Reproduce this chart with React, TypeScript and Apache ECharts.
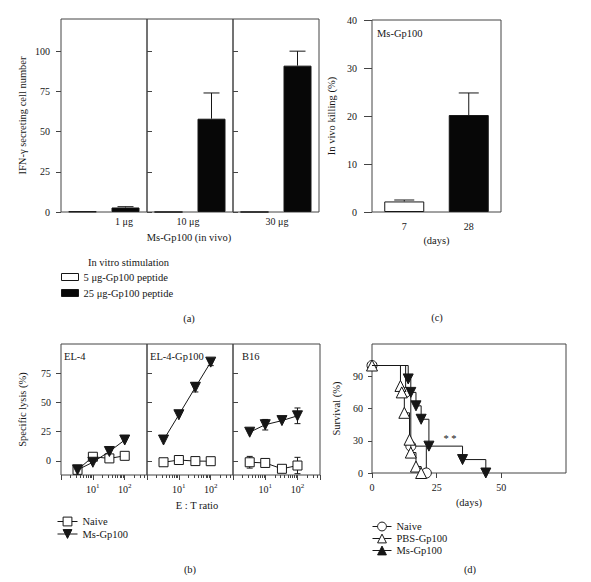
import React, { useEffect, useRef } from 'react';
import * as echarts from 'echarts';

// ---------------- data ----------------
// (a) IFN-gamma ELISPOT
const doses = ['1 μg', '10 μg', '30 μg'];
const stimNames = ['5 μg-Gp100 peptide', '25 μg-Gp100 peptide'];
const ifn5 = [0.3, 0, 0];
const ifn25 = [2.8, 58, 91];
const ifn25Upper = [3.3, 74, 100];
const ifnTicks = [0, 25, 50, 75, 100];

// (c) in vivo killing
const killDays = ['7', '28'];
const killVals = [2.2, 20.2];
const killUpper = [2.5, 24.8];

// (b) specific lysis
const targets = ['EL-4', 'EL-4-Gp100', 'B16'];
const etRatios = [3.3, 10, 33, 100];
const naiveLysis = [
  [-7.6, 3.6, 2.2, 4.4],
  [-1.1, 0.8, -0.1, -0.2],
  [-1.1, -1.7, -6.7, -3.9],
];
const naiveSd = [
  [0, 0, 0, 0],
  [0.5, 0.5, 0.5, 0.5],
  [5, 0.8, 0.5, 7],
];
const msLysis = [
  [-7.6, -1.1, 8.1, 17.9],
  [17.9, 39.5, 63, 84.5],
  [24.6, 31, 34.5, 38.6],
];
const msSd = [
  [0, 0, 0, 0],
  [0.5, 0.5, 4, 3],
  [0.5, 4.5, 0.5, 6.7],
];
const lysisTicks = [0, 25, 50, 75];

// (d) survival
const naiveDays = [0, 13, 15, 21];
const naiveSurv = [100, 75, 25, 0];
const pbsDays = [0, 11, 11.5, 12.5, 14.5, 15, 17, 19];
const pbsSurv = [100, 81, 75, 56, 31, 19, 6, 0];
const msDays = [0, 14, 15, 17, 19, 22, 35, 44];
const msSurv = [100, 87.5, 75, 62.5, 50, 25, 12.5, 0];
const survXTicks = [0, 25, 50];
const survYTicks = [0, 30, 60, 90];

// ---------------- style ----------------
const FONT = 'Liberation Serif';
const INK = '#161616';
const FRAME = '#444';
const TS = 10.5; // title / legend text size
const LS = 10; // tick label size

const txt = (size = TS) => ({ fontFamily: FONT, fontSize: size, color: INK });

const errorBar = (capW: number, both: boolean) => (params: any, api: any) => {
  const x = api.value(0);
  const y = api.value(1);
  const lo = api.value(2);
  const hi = api.value(3);
  const top = api.coord([x, hi]);
  const bot = api.coord([x, both ? lo : y]);
  const st = { stroke: INK, lineWidth: 1 };
  const children: any[] = [
    { type: 'line', shape: { x1: top[0], y1: top[1], x2: bot[0], y2: bot[1] }, style: st },
    { type: 'line', shape: { x1: top[0] - capW / 2, y1: top[1], x2: top[0] + capW / 2, y2: top[1] }, style: st },
  ];
  if (both) {
    children.push({ type: 'line', shape: { x1: bot[0] - capW / 2, y1: bot[1], x2: bot[0] + capW / 2, y2: bot[1] }, style: st });
  }
  return { type: 'group', children };
};

function buildOption(): any {
  const grids = [
    { left: 61, top: 19, width: 86, height: 193 },
    { left: 147, top: 19, width: 86, height: 193 },
    { left: 233, top: 19, width: 86, height: 193 },
    { left: 372, top: 20, width: 129, height: 192 },
    { left: 61, top: 344, width: 86, height: 131 },
    { left: 147, top: 344, width: 86, height: 131 },
    { left: 233, top: 344, width: 87, height: 131 },
    { left: 372, top: 344, width: 194, height: 129 },
  ].map((g) => ({
    ...g,
    show: true,
    borderColor: FRAME,
    borderWidth: 1,
    backgroundColor: 'transparent',
    containLabel: false,
    outerBoundsMode: 'none',
  }));

  const tickLine = { color: FRAME, width: 1 };
  const noLine = { show: false, onZero: false };
  const xAxes: any[] = [];
  const yAxes: any[] = [];

  // (a)
  for (let i = 0; i < 3; i++) {
    xAxes.push({
      type: 'category', gridIndex: i, data: stimNames,
      axisLine: noLine, axisTick: { show: false }, axisLabel: { show: false },
    });
    yAxes.push({
      type: 'value', gridIndex: i, min: 0, max: 120,
      axisLine: noLine,
      axisTick: { show: true, inside: i > 0, length: 5, customValues: ifnTicks, lineStyle: tickLine },
      axisLabel: { show: i === 0, customValues: ifnTicks, margin: 11, ...txt(LS) },
      splitLine: { show: false },
      name: i === 0 ? 'IFN-γ secreting cell number' : '',
      nameLocation: 'middle', nameGap: 33, nameTextStyle: txt(),
    });
  }
  // (c)
  xAxes.push({
    type: 'category', gridIndex: 3, data: killDays,
    axisLine: noLine, axisTick: { show: false },
    axisLabel: { margin: 9, ...txt(LS) },
    name: '(days)', nameLocation: 'middle', nameGap: 23, nameTextStyle: txt(),
  });
  yAxes.push({
    type: 'value', gridIndex: 3, min: 0, max: 40, interval: 10,
    axisLine: noLine,
    axisTick: { show: true, length: 8, lineStyle: tickLine },
    axisLabel: { margin: 15, ...txt(LS) },
    splitLine: { show: false },
    name: 'In vivo killing (%)', nameLocation: 'middle', nameGap: 35, nameTextStyle: txt(),
  });
  // (b)
  for (let j = 0; j < 3; j++) {
    xAxes.push({
      type: 'log', logBase: 10, gridIndex: 4 + j, min: 1, max: 500,
      axisLine: noLine,
      axisTick: { show: true, length: 5, lineStyle: tickLine },
      minorTick: { show: true, splitNumber: 9, length: 3, lineStyle: tickLine },
      splitLine: { show: false }, minorSplitLine: { show: false },
      axisLabel: {
        margin: 7,
        formatter: (v: number) => {
          const r = Math.round(v);
          return r === 10 ? '{b|10}{s|1}' : r === 100 ? '{b|10}{s|2}' : '';
        },
        rich: {
          b: { fontFamily: FONT, fontSize: LS, color: INK, lineHeight: 14 },
          s: { fontFamily: FONT, fontSize: 7, color: INK, lineHeight: 8, verticalAlign: 'top' },
        },
      },
    });
    yAxes.push({
      type: 'value', gridIndex: 4 + j, min: -12, max: 100,
      axisLine: noLine,
      axisTick: { show: true, inside: j > 0, length: 5, customValues: lysisTicks, lineStyle: tickLine },
      axisLabel: { show: j === 0, customValues: lysisTicks, margin: 10, ...txt(LS) },
      splitLine: { show: false },
      name: j === 0 ? 'Specific lysis (%)' : '',
      nameLocation: 'middle', nameGap: 33, nameTextStyle: txt(),
    });
  }
  // (d)
  xAxes.push({
    type: 'value', gridIndex: 7, min: 0, max: 75,
    axisLine: noLine,
    axisTick: { show: true, length: 5, customValues: survXTicks, lineStyle: tickLine },
    axisLabel: { customValues: survXTicks, margin: 9, ...txt(LS) },
    splitLine: { show: false },
    name: '(days)', nameLocation: 'middle', nameGap: 24, nameTextStyle: txt(),
  });
  yAxes.push({
    type: 'value', gridIndex: 7, min: 0, max: 120,
    axisLine: noLine,
    axisTick: { show: true, length: 4, customValues: survYTicks, lineStyle: tickLine },
    axisLabel: { customValues: survYTicks, margin: 9, ...txt(LS) },
    splitLine: { show: false },
    name: 'Survival (%)', nameLocation: 'middle', nameGap: 30, nameTextStyle: txt(),
  });

  const series: any[] = [];
  const whiteBar = { color: '#ffffff', borderColor: INK, borderWidth: 1 };
  const blackBar = { color: '#070707', borderColor: INK, borderWidth: 1 };

  // (a) bars
  for (let i = 0; i < 3; i++) {
    series.push({
      type: 'bar', name: stimNames[0], xAxisIndex: i, yAxisIndex: i,
      data: [ifn5[i], '-'], barWidth: 28, barGap: '-100%', itemStyle: whiteBar,
    });
    series.push({
      type: 'bar', name: stimNames[1], xAxisIndex: i, yAxisIndex: i,
      data: ['-', ifn25[i]], barWidth: 28, barGap: '-100%', itemStyle: blackBar,
    });
    series.push({
      type: 'custom', xAxisIndex: i, yAxisIndex: i, silent: true,
      renderItem: errorBar(16, false),
      data: [[1, ifn25[i], ifn25[i], ifn25Upper[i]]],
      z: 1,
    });
  }
  // (c) bars
  series.push({
    type: 'bar', name: 'killing', xAxisIndex: 3, yAxisIndex: 3, barWidth: 40,
    data: killVals.map((v, k) => ({ value: v, itemStyle: k === 0 ? whiteBar : blackBar })),
  });
  series.push({
    type: 'custom', xAxisIndex: 3, yAxisIndex: 3, silent: true,
    renderItem: errorBar(20, false),
    data: killVals.map((v, k) => [k, v, v, killUpper[k]]),
    z: 1,
  });
  // (b) lines
  for (let j = 0; j < 3; j++) {
    series.push({
      type: 'custom', xAxisIndex: 4 + j, yAxisIndex: 4 + j, silent: true,
      renderItem: errorBar(6, true),
      data: etRatios
        .map((x, k) => [x, naiveLysis[j][k], naiveLysis[j][k] - naiveSd[j][k], naiveLysis[j][k] + naiveSd[j][k], naiveSd[j][k]])
        .concat(etRatios.map((x, k) => [x, msLysis[j][k], msLysis[j][k] - msSd[j][k], msLysis[j][k] + msSd[j][k], msSd[j][k]]))
        .filter((r) => r[4] > 0.9),
      z: 1,
    });
    series.push({
      type: 'line', name: 'Naive', xAxisIndex: 4 + j, yAxisIndex: 4 + j,
      data: etRatios.map((x, k) => [x, naiveLysis[j][k]]),
      symbol: 'rect', symbolSize: 9, showAllSymbol: true,
      itemStyle: { color: '#ffffff', borderColor: INK, borderWidth: 1 },
      lineStyle: { color: INK, width: 1 }, z: 2,
    });
    series.push({
      type: 'line', name: 'Ms-Gp100', xAxisIndex: 4 + j, yAxisIndex: 4 + j,
      data: etRatios.map((x, k) => [x, msLysis[j][k]]),
      symbol: 'triangle', symbolRotate: 180, symbolSize: 10, showAllSymbol: true,
      itemStyle: { color: INK, borderColor: INK, borderWidth: 1 },
      lineStyle: { color: INK, width: 1 }, z: 3,
    });
  }
  // (d) survival
  series.push({
    type: 'line', name: 'd:Naive', xAxisIndex: 7, yAxisIndex: 7, step: 'end',
    data: naiveDays.map((d, k) => [d, naiveSurv[k]]),
    symbol: 'circle', symbolSize: 10, showAllSymbol: true,
    itemStyle: { color: '#ffffff', borderColor: INK, borderWidth: 1 },
    lineStyle: { color: INK, width: 1 }, z: 2,
  });
  series.push({
    type: 'line', name: 'd:PBS-Gp100', xAxisIndex: 7, yAxisIndex: 7, step: 'end',
    data: pbsDays.map((d, k) => [d, pbsSurv[k]]),
    symbol: 'triangle', symbolSize: 11, showAllSymbol: true,
    itemStyle: { color: '#ffffff', borderColor: INK, borderWidth: 1 },
    lineStyle: { color: INK, width: 1 }, z: 3,
  });
  series.push({
    type: 'line', name: 'd:Ms-Gp100', xAxisIndex: 7, yAxisIndex: 7, step: 'end',
    data: msDays.map((d, k) => (k === 0 ? { value: [d, msSurv[k]], symbol: 'none' } : [d, msSurv[k]])),
    symbol: 'triangle', symbolRotate: 180, symbolSize: 10, showAllSymbol: true,
    itemStyle: { color: INK, borderColor: INK, borderWidth: 1 },
    lineStyle: { color: INK, width: 1 }, z: 4,
  });

  const legends = [
    {
      orient: 'vertical', left: 61, top: 271.5, padding: 0, itemWidth: 17, itemHeight: 7, itemGap: 5,
      selectedMode: false, icon: 'rect', textStyle: txt(),
      data: [
        { name: stimNames[0], itemStyle: { color: '#ffffff', borderColor: INK, borderWidth: 1 } },
        { name: stimNames[1], itemStyle: { color: '#070707', borderColor: INK, borderWidth: 1 } },
      ],
    },
    {
      orient: 'vertical', left: 57, top: 516, padding: 0, itemWidth: 20, itemHeight: 11, itemGap: 1.5,
      selectedMode: false, textStyle: txt(),
      itemStyle: { borderWidth: 1 }, lineStyle: { width: 1 },
      data: ['Naive', 'Ms-Gp100'],
    },
    {
      orient: 'vertical', left: 372, top: 521, padding: 0, itemWidth: 19, itemHeight: 11, itemGap: 1,
      selectedMode: false, textStyle: txt(),
      itemStyle: { borderWidth: 1 }, lineStyle: { width: 1 },
      formatter: (n: string) => n.replace('d:', ''),
      data: [{ name: 'd:Naive' }, { name: 'd:PBS-Gp100' }, { name: 'd:Ms-Gp100', symbolRotate: 0 }],
    },
  ];

  const doseX = [124, 188, 277];
  const targetX = [64, 150, 242];
  const gtext = (x: number, y: number, text: string, align = 'center', size = TS) => ({
    type: 'text', x, y,
    style: { text, fontFamily: FONT, fontSize: size, fill: INK, align, verticalAlign: 'middle' },
  });

  const graphic = [
    ...doses.map((d, i) => gtext(doseX[i], 221, d, 'center', LS)),
    gtext(189, 237, 'Ms-Gp100 (in vivo)'),
    gtext(88, 262, 'In vitro stimulation', 'left'),
    gtext(189, 318, '(a)'),
    gtext(377, 33, 'Ms-Gp100', 'left'),
    gtext(437, 317, '(c)'),
    ...targets.map((t, i) => gtext(targetX[i], 356, t, 'left')),
    gtext(197, 505, 'E : T ratio'),
    gtext(190, 569, '(b)'),
    gtext(450, 438, '* *'),
    gtext(470, 569, '(d)'),
  ];

  return {
    animation: false,
    backgroundColor: '#ffffff',
    grid: grids,
    xAxis: xAxes,
    yAxis: yAxes,
    series,
    legend: legends,
    graphic,
  };
}

export default function App() {
  const ref = useRef<HTMLDivElement>(null);
  useEffect(() => {
    const chart = echarts.init(ref.current as HTMLDivElement, null, { renderer: 'svg' });
    chart.setOption(buildOption());
    return () => chart.dispose();
  }, []);
  return (
    <div
      ref={ref}
      style={{ position: 'fixed', left: 0, top: 0, width: 591, height: 582, background: '#fff' }}
    />
  );
}
